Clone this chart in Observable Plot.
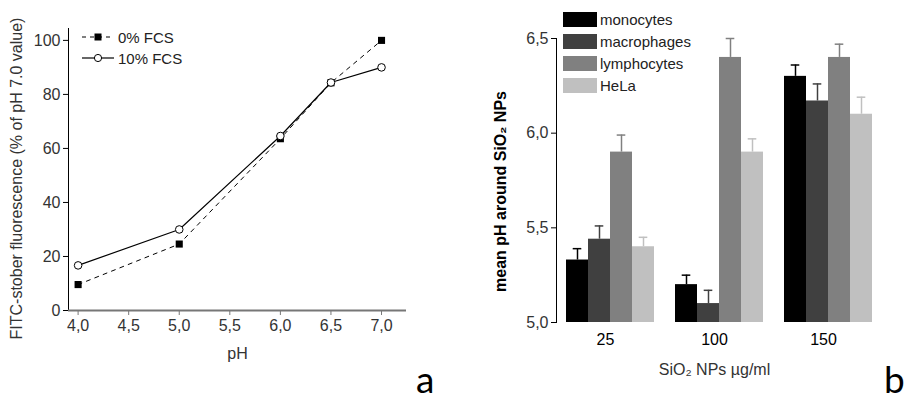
<!DOCTYPE html>
<html>
<head>
<meta charset="utf-8">
<script src="https://cdn.jsdelivr.net/npm/d3@7"></script>
<script src="https://cdn.jsdelivr.net/npm/@observablehq/plot@0.6"></script>
<style>
  html, body { margin: 0; padding: 0; background: #fff; }
  #fig { position: relative; width: 904px; height: 401px; overflow: hidden;
         font-family: "Liberation Sans", Arial, sans-serif; }
  #fig > svg { position: absolute; top: 0; }
  .row { position: absolute; display: flex; align-items: center; height: 16px;
         font-size: 15px; color: #222; white-space: nowrap; }
  .row svg { display: block; margin-right: 4px; }
  .swatch { width: 34px; height: 15px; margin-right: 3px; }
  .letter { position: absolute; font-family: Lato, "Open Sans", sans-serif;
            font-size: 37px; line-height: 44px; color: #000; }
</style>
</head>
<body>
<div id="fig"></div>
<script>
// Panel a: FITC-stober fluorescence versus pH, with and without serum
const pH = [4.0, 5.0, 6.0, 6.5, 7.0];
const fluorNoSerum = [9.6, 24.6, 63.6, 84.3, 100];
const fluorSerum = [16.7, 30.0, 64.6, 84.4, 90.0];
const serumLabels = ["0% FCS", "10% FCS"];
const pHTicks = [4.0, 4.5, 5.0, 5.5, 6.0, 6.5, 7.0];
const fluorTicks = [0, 20, 40, 60, 80, 100];
const pHDomain = [3.905, 7.247];
const fluorDomain = [0, 104.4];

// Panel b: mean pH around SiO2 nanoparticles per cell type and dose
const doses = ["25", "100", "150"];
const cellTypes = ["monocytes", "macrophages", "lymphocytes", "HeLa"];
const cellShades = ["#000000", "#404040", "#808080", "#c0c0c0"];
const pHMonocytes = [5.33, 5.20, 6.30];
const sdMonocytes = [0.06, 0.05, 0.06];
const pHMacrophages = [5.44, 5.10, 6.17];
const sdMacrophages = [0.07, 0.07, 0.09];
const pHLymphocytes = [5.90, 6.40, 6.40];
const sdLymphocytes = [0.09, 0.10, 0.07];
const pHHeLa = [5.40, 5.90, 6.10];
const sdHeLa = [0.05, 0.07, 0.09];
const meanPHTicks = [5.0, 5.5, 6.0, 6.5];
const meanPHDomain = [5.0, 6.5];

const comma = d => d.toFixed(1).replace(".", ",");
const font = "'Liberation Sans', Arial, sans-serif";
const fig = document.getElementById("fig");

// nudge an axis label without touching its rotation
function nudgeLabel(svg, name, dx, dy, attrs = {}) {
  d3.select(svg).selectAll(`[aria-label="${name}"] text`).each(function () {
    const old = this.getAttribute("transform") || "";
    this.setAttribute("transform", `translate(${dx},${dy}) ${old}`);
    for (const [k, v] of Object.entries(attrs)) this.setAttribute(k, v);
  });
}

// ---- panel a ----
const curveNoSerum = pH.map((p, i) => ({pH: p, value: fluorNoSerum[i], serum: serumLabels[0]}));
const curveSerum = pH.map((p, i) => ({pH: p, value: fluorSerum[i], serum: serumLabels[1]}));

const plotA = Plot.plot({
  width: 460, height: 401,
  marginLeft: 68, marginRight: 54, marginTop: 28, marginBottom: 91,
  style: {fontFamily: font, fontSize: "16px", color: "#000", background: "transparent", overflow: "visible"},
  x: {domain: pHDomain},
  y: {domain: fluorDomain},
  marks: [
    Plot.axisX({ticks: pHTicks, tickFormat: comma, tickSize: 5, tickPadding: 4,
                stroke: "#777", fill: "#333",
                label: "pH", labelAnchor: "center", labelOffset: 48, labelArrow: "none"}),
    Plot.axisY({ticks: fluorTicks, tickSize: 5, tickPadding: 3, fill: "#333",
                label: "FITC-stober fluorescence (% of pH 7.0 value)",
                labelAnchor: "center", labelOffset: 58, labelArrow: "none"}),
    Plot.ruleX([pHDomain[0]], {stroke: "#000", strokeWidth: 1}),
    Plot.ruleY([fluorDomain[0]], {stroke: "#777", strokeWidth: 2}),
    Plot.line(curveNoSerum, {x: "pH", y: "value", stroke: "#000", strokeWidth: 1, strokeDasharray: "4,5"}),
    Plot.line(curveSerum, {x: "pH", y: "value", stroke: "#000", strokeWidth: 1.2}),
    Plot.dot(curveNoSerum, {x: "pH", y: "value", symbol: "square", r: 4, fill: "#000"}),
    Plot.dot(curveSerum, {x: "pH", y: "value", symbol: "circle", r: 3.8, fill: "#fff", stroke: "#000", strokeWidth: 1})
  ]
});
plotA.style.left = "0px";
fig.appendChild(plotA);
nudgeLabel(plotA, "y-axis label", 0, 9);

// legend for panel a
const legendA = [
  {label: serumLabels[0], top: 29, sample:
    `<line x1="0" y1="8" x2="32" y2="8" stroke="#000" stroke-width="1" stroke-dasharray="4,4"/>
     <rect x="12.5" y="4.5" width="7" height="7" fill="#000"/>`},
  {label: serumLabels[1], top: 50, sample:
    `<line x1="0" y1="8" x2="32" y2="8" stroke="#000" stroke-width="1.2"/>
     <circle cx="16" cy="8" r="3.6" fill="#fff" stroke="#000"/>`}
];
for (const item of legendA) {
  const row = document.createElement("div");
  row.className = "row";
  row.style.left = "82px";
  row.style.top = item.top + "px";
  row.innerHTML = `<svg width="32" height="16">${item.sample}</svg><span>${item.label}</span>`;
  fig.appendChild(row);
}

// ---- panel b ----
const meansByCell = [pHMonocytes, pHMacrophages, pHLymphocytes, pHHeLa];
const sdsByCell = [sdMonocytes, sdMacrophages, sdLymphocytes, sdHeLa];
const bars = doses.flatMap((dose, j) => cellTypes.map((cell, c) => ({
  dose, cell, mean: meansByCell[c][j], upper: meansByCell[c][j] + sdsByCell[c][j]
})));

const plotB = Plot.plot({
  width: 444, height: 401,
  marginLeft: 95, marginRight: 31, marginTop: 38, marginBottom: 79,
  style: {fontFamily: font, fontSize: "16px", color: "#000", background: "transparent", overflow: "visible"},
  fx: {domain: doses, paddingInner: 0.0975, paddingOuter: 0, axis: "bottom", tickSize: 0, tickPadding: 11,
       label: "SiO₂ NPs µg/ml", labelAnchor: "center", labelOffset: 52, labelArrow: "none"},
  x: {domain: cellTypes, padding: 0, insetLeft: 10, axis: null},
  y: {domain: meanPHDomain, ticks: meanPHTicks, tickFormat: comma, tickSize: 5, tickPadding: 3, line: true,
      label: "mean pH around SiO₂ NPs", labelAnchor: "center", labelOffset: 54, labelArrow: "none"},
  color: {domain: cellTypes, range: cellShades},
  marks: [
    Plot.barY(bars, {fx: "dose", x: "cell", y1: meanPHDomain[0], y2: "mean", fill: "cell"}),
    Plot.ruleX(bars, {fx: "dose", x: "cell", y1: "mean", y2: "upper", stroke: "cell", strokeWidth: 1.5}),
    Plot.tickY(bars, {fx: "dose", x: "cell", y: "upper", stroke: "cell", strokeWidth: 1.5, insetLeft: 6.7, insetRight: 6.7})
  ]
});
plotB.style.left = "460px";
fig.appendChild(plotB);

// bold y label, grey tick text for panel b
nudgeLabel(plotB, "y-axis label", -8, 11, {"font-weight": "bold"});
d3.select(plotB).selectAll('[aria-label="y-axis tick label"] text, [aria-label="fx-axis label"] text').attr("fill", "#333");

// legend for panel b
cellTypes.forEach((cell, c) => {
  const row = document.createElement("div");
  row.className = "row";
  row.style.left = "563px";
  row.style.top = (11.5 + 22 * c) + "px";
  row.innerHTML = `<div class="swatch" style="background:${cellShades[c]}"></div><span>${cell}</span>`;
  fig.appendChild(row);
});

// panel letters
for (const [text, left] of [["a", 416], ["b", 884]]) {
  const el = document.createElement("div");
  el.className = "letter";
  el.textContent = text;
  el.style.left = left + "px";
  el.style.bottom = "0px";
  fig.appendChild(el);
}
</script>
</body>
</html>
